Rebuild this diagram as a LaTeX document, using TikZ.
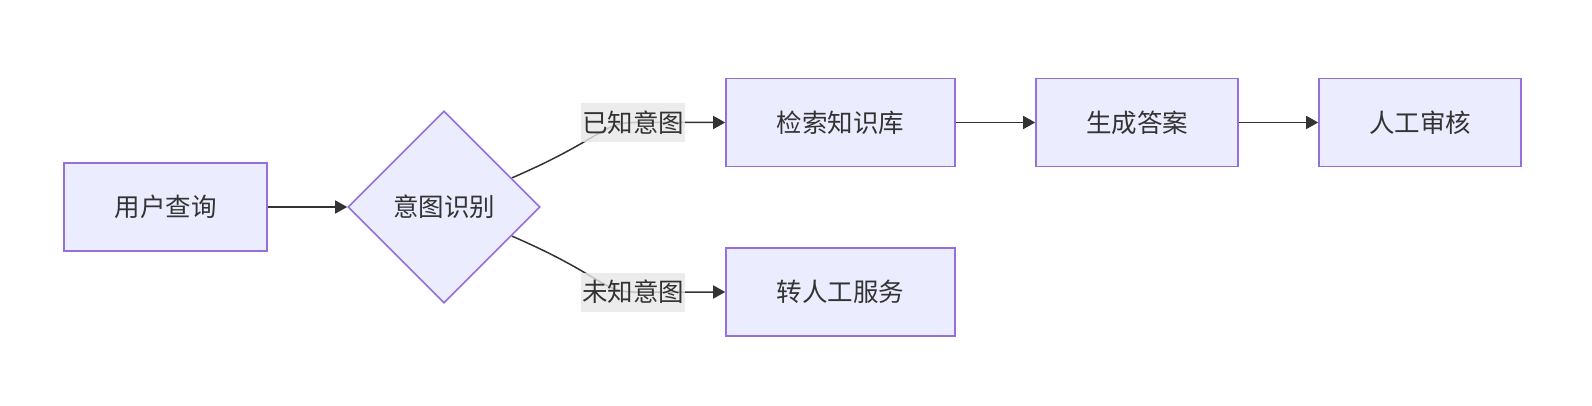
\documentclass[tikz,border=0pt]{standalone}
\usepackage{fontspec}
\setmainfont{Noto Sans CJK SC}
\usetikzlibrary{shapes.geometric,arrows.meta,backgrounds,calc}
\definecolor{nodefill}{HTML}{ECECFF}
\definecolor{nodeline}{HTML}{9370DB}
\definecolor{txt}{HTML}{333333}
\definecolor{lblfill}{HTML}{E8E8E8}
\begin{document}
\begin{tikzpicture}[x=1pt,y=-1pt,
  every node/.style={font=\fontsize{25.5pt}{28pt}\selectfont, text=txt},
  procbox/.style={draw=nodeline, fill=nodefill, line width=1.6pt, rectangle, inner sep=0pt, minimum height=88pt},
  decbox/.style={draw=nodeline, fill=nodefill, line width=1.6pt, diamond, inner sep=0pt, minimum width=192pt, minimum height=192pt},
  lblbox/.style={fill=lblfill, fill opacity=0.8, text opacity=1, inner sep=0pt, minimum width=104pt, minimum height=39pt},
  edge/.style={draw=txt, line width=1.5pt, -{Triangle[length=12pt,width=13pt]}}
]
\useasboundingbox (0,0) rectangle (1592,406);
\node[procbox, minimum width=203pt] (A) at (165.5,207) {用户查询};
\node[decbox] (B) at (444,207) {意图识别};
\node[procbox, minimum width=229pt] (C) at (840.5,122.5) {检索知识库};
\node[procbox, minimum width=202pt] (D) at (1137,122.5) {生成答案};
\node[procbox, minimum width=202pt] (E) at (1420,122.5) {人工审核};
\node[procbox, minimum width=229pt] (F) at (840.5,292) {转人工服务};
\node[lblbox] (L1) at (633,122.5) {已知意图};
\node[lblbox] (L2) at (633,292) {未知意图};
\begin{scope}[on background layer]
\fill[white] (0,0) rectangle (1592,406);
\draw[edge] (A.east) -- (B.west);
\draw[edge] ($(B.east)!0.3!(B.north)$) .. controls +(88,-38) and +(-30,0) .. (L1.center) -- (C.west);
\draw[edge] ($(B.east)!0.3!(B.south)$) .. controls +(88,38) and +(-30,0) .. (L2.center) -- (F.west);
\draw[edge] (C.east) -- (D.west);
\draw[edge] (D.east) -- (E.west);
\end{scope}
\end{tikzpicture}
\end{document}
